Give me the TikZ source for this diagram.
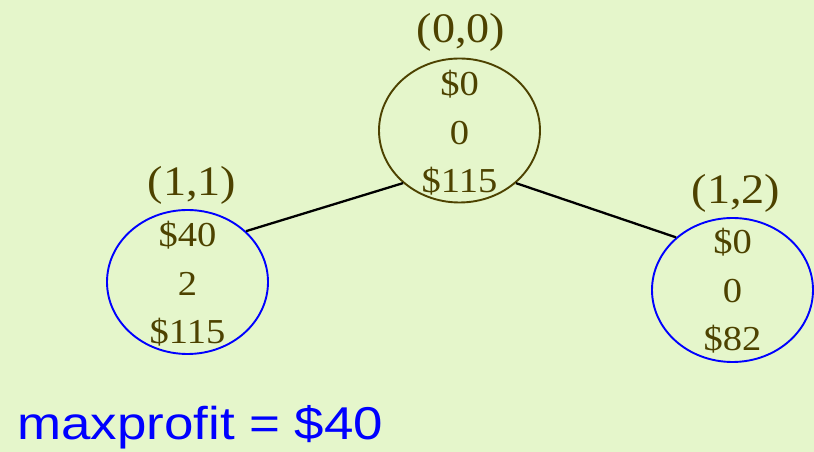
\documentclass[tikz,border=0pt]{standalone}
\usepackage{fontspec}
\setmainfont{Liberation Serif}
\newfontfamily\serifst{Liberation Serif}[FakeStretch=1.1]
\newfontfamily\sansst{Liberation Sans}[FakeStretch=1.15]
\usetikzlibrary{shapes.geometric}
\definecolor{bgc}{RGB}{229,246,203}
\definecolor{olive}{RGB}{77,66,0}
\definecolor{pblue}{RGB}{0,0,255}
\tikzset{
  stnode/.style={ellipse, minimum width=161pt, minimum height=144pt, inner sep=0pt, draw, line width=1.9pt},
  vals/.style={align=center, text=olive, inner sep=0pt, font=\serifst\fontsize{35}{48.5}\selectfont},
  ttl/.style={anchor=base, text=olive, inner sep=0pt, font=\serifst\fontsize{42}{48}\selectfont},
  edge/.style={line width=2.3pt, black}
}
\begin{document}
\begin{tikzpicture}[x=1pt,y=1pt]
\fill[bgc] (0,0) rectangle (814,452);
\useasboundingbox (0,0) rectangle (814,452);
\node[stnode, draw=olive] (root) at (459.5,321.5) {};
\node[stnode, draw=pblue] (left) at (187.5,170) {};
\node[stnode, draw=pblue] (right) at (732.5,162) {};
\node[vals] (rootv) at ([yshift=-2.5pt]root.center) {\$0\\0\\\$115};
\node[vals] (leftv) at ([yshift=-2pt]left.center) {\$40\\2\\\$115};
\node[vals] (rightv) at ([yshift=-1pt]right.center) {\$0\\0\\\$82};
\node[ttl] (roott) at (461,409) {(0,0)};
\node[ttl] (leftt) at (192,256) {(1,1)};
\node[ttl] (rightt) at (736,248) {(1,2)};
\draw[edge] (root.223) -- (left.41);
\draw[edge] (root.317.6) -- (right.137.3);
\node[anchor=base west, inner sep=0pt, text=pblue, font=\sansst\fontsize{46}{50}\selectfont] (mp) at (17,12) {maxprofit = \$40};
\end{tikzpicture}
\end{document}
